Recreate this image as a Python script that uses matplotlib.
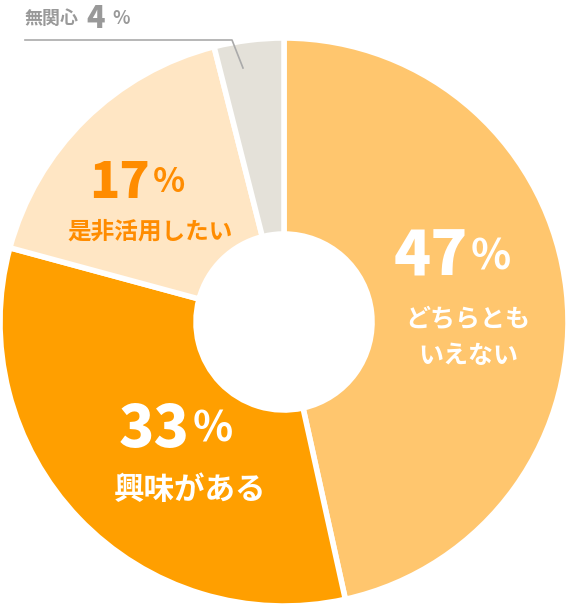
import matplotlib
matplotlib.use("Agg")
import matplotlib.pyplot as plt

categories = ["どちらとも\nいえない", "興味がある", "是非活用したい", "無関心"]
values = [47, 33, 17, 4]
colors = ["#FFC66E", "#FF9F00", "#FFE6C4", "#E4E1D9"]

plt.rcParams['font.family'] = ['Noto Sans CJK JP', 'DejaVu Sans']
W, H = 569, 608
fig = plt.figure(figsize=(W/100, H/100), dpi=100)
ax = fig.add_axes([0, 0, 1, 1])

cx, cy, R = 284, H-322, 284
ax.pie(values, colors=colors, startangle=90, counterclock=False, radius=R,
       center=(cx, cy), wedgeprops=dict(width=R-88, edgecolor='white', linewidth=4),
       frame=True)
ax.set_xlim(0, W); ax.set_ylim(0, H); ax.axis('off')
ax.set_aspect('equal')

def pct(x, y, num, color, size, psize, lab=None, lsize=None, ly=None):
    ax.text(x, H-y, f"{num}", color=color, fontsize=size, fontweight='heavy', ha='right', va='center')
    ax.text(x+3, H-y, "%", color=color, fontsize=psize, fontweight='bold', ha='left', va='center')
    if lab:
        ax.text(x, H-ly, lab, color=color, fontsize=lsize, fontweight='bold', ha='center', va='center', linespacing=1.6)

pct(468, 258, values[0], 'white', 44, 30, categories[0], 18, 338)
pct(190, 430, values[1], 'white', 42, 30, categories[1], 22, 490)
pct(150, 183, values[2], '#FF8C00', 36, 24, categories[2], 17, 232)

ax.text(25, H-18, "無関心", color='#999999', fontsize=13, fontweight='bold', ha='left', va='center')
ax.text(86, H-18, f"{values[3]}", color='#999999', fontsize=22, fontweight='heavy', ha='left', va='center')
ax.text(112, H-18, "%", color='#999999', fontsize=13, fontweight='bold', ha='left', va='center')
ax.plot([25, 232, 243], [H-40, H-40, H-68], color='#aaaaaa', lw=1.2)

fig.savefig("out.png", dpi=100)
